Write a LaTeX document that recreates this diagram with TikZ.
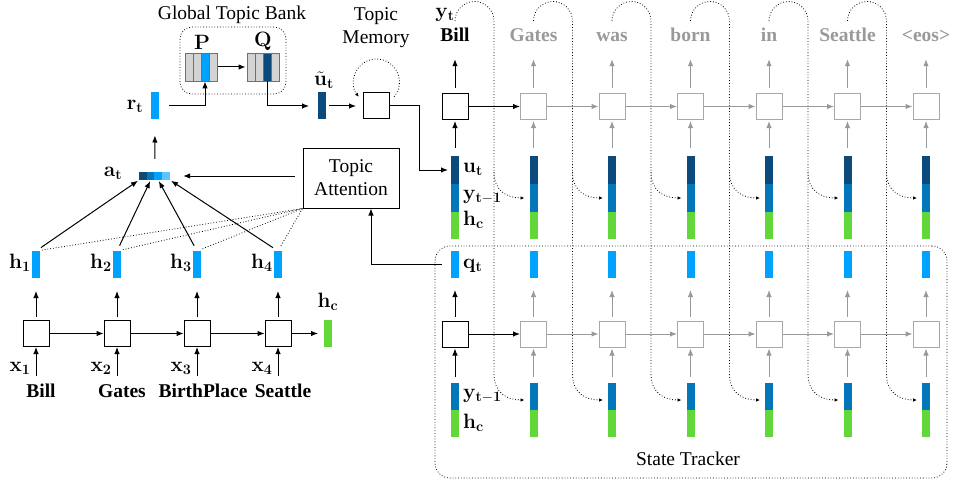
\documentclass[tikz,border=0pt]{standalone}
\usepackage[no-math]{fontspec}
\newfontfamily\tnr{Liberation Serif}
\usetikzlibrary{arrows.meta}
\definecolor{lb}{HTML}{00A2FF}
\definecolor{db}{HTML}{0B4A7A}
\definecolor{mb}{HTML}{0476BA}
\definecolor{gr}{HTML}{62D73A}
\definecolor{vlb}{HTML}{5FC4FF}
\definecolor{mg}{HTML}{D3D3D3}
\definecolor{mgl}{HTML}{707070}
\definecolor{gbc}{HTML}{A8A8A8}
\definecolor{gac}{HTML}{999999}
\definecolor{gwc}{HTML}{999999}
\begin{document}
\begin{tikzpicture}[x=1pt,y=-1pt,
  box/.style={draw=black,line width=1pt,minimum width=26pt,minimum height=26pt,inner sep=0pt,fill=white},
  gbox/.style={box,draw=gbc},
  bar/.style={inner sep=0pt,minimum width=8pt,minimum height=27pt,outer sep=0pt},
  ml/.style={inner sep=0pt,font=\fontsize{20.74}{24}\selectfont},
  txt/.style={inner sep=0pt,font=\fontsize{19.5}{23}\selectfont\tnr,align=center},
  word/.style={inner sep=0pt,font=\fontsize{19.5}{22}\selectfont\tnr\bfseries,text height=14pt,text depth=4pt},
  arr/.style={-{Latex[length=7pt,width=5.5pt]},line width=1pt},
  garr/.style={arr,draw=gac},
  dots/.style={dotted,line width=0.8pt},
  darr/.style={dots,-{Latex[length=4pt,width=3.5pt]}},
]
\useasboundingbox (0,0) rectangle (968,484);

% ---------- encoder ----------
\foreach \i/\x in {1/36,2/117,3/197,4/278}{
  \node[box] (e\i) at (\x,333.5) {};
  \node[bar,fill=lb] (h\i) at (\x,264.5) {};
  \node[ml] (hl\i) at (\x-16,263) {$\mathbf{h_{\i}}$};
  \node[ml] (xl\i) at (\x-16,368) {$\mathbf{x_{\i}}$};
  \coordinate (ein\i) at (\x,376);
  \draw[arr] (ein\i) -- (e\i.south);
  \draw[arr,shorten <=3pt,shorten >=13pt] (e\i.north) -- (h\i.south);
}
\node[bar,fill=gr] (hc) at (328,333.5) {};
\node[ml] (hcl) at (328,302) {$\mathbf{h_c}$};
\draw[arr] (e1) -- (e2);
\draw[arr] (e2) -- (e3);
\draw[arr] (e3) -- (e4);
\draw[arr,shorten >=6pt] (e4) -- (hc);
\node[word] (wb1) at (41,392) {Bill};
\node[word] (wb2) at (122,392) {Gates};
\node[word] (wb3) at (203,392) {BirthPlace};
\node[word] (wb4) at (283,392) {Seattle};

% ---------- attention ----------
\foreach \k/\c in {1/db,2/mb,3/lb,4/vlb}
  \node[inner sep=0pt,minimum width=7.75pt,minimum height=8pt,fill=\c] (a\k) at (135.1+7.75*\k,176) {};
\node[ml] (atl) at (113,173) {$\mathbf{a_t}$};
\draw[arr,shorten <=6pt,shorten >=1pt] (h1.north) -- (a1.south west);
\draw[arr,shorten <=6pt,shorten >=1pt] (h2.north) -- (a2.south);
\draw[arr,shorten <=6pt,shorten >=1pt] (h3.north) -- (a3.south);
\draw[arr,shorten <=6pt,shorten >=1pt] (h4.north) -- (a4.south east);

\node[draw,line width=1pt,minimum width=96pt,minimum height=60pt,txt] (ta) at (351,178) {Topic\\Attention};
\foreach \i in {1,...,4}
  \draw[dots,shorten <=6pt] (h\i.north) -- (ta.south west);
\draw[arr,shorten <=8pt,shorten >=13pt] ([yshift=2pt]ta.west) -- (a4.east);

\node[bar,fill=lb] (rt) at (155,106) {};
\node[ml] (rtl) at (135,106) {$\mathbf{r_t}$};
\draw[arr,shorten <=13pt,shorten >=16pt] (a2.north east) -- (rt.south);

% ---------- global topic bank ----------
\node[txt] (gtb) at (232,15) {Global Topic Bank};
\node[draw,dots,rounded corners=12pt,minimum width=106pt,minimum height=67pt,inner sep=0pt] (bank) at (233,60.5) {};
\foreach \k/\c in {1/mg,2/mg,3/lb,4/mg}
  \node[inner sep=0pt,minimum width=8pt,minimum height=28pt,draw=mgl,fill=\c,line width=0.8pt] (P\k) at (181+8*\k,67) {};
\foreach \k/\c in {1/mg,2/mg,3/db,4/mg}
  \node[inner sep=0pt,minimum width=8pt,minimum height=28pt,draw=mgl,fill=\c,line width=0.8pt] (Q\k) at (243+8*\k,67) {};
\node[ml] (Pl) at (202,42) {$\mathbf{P}$};
\node[ml] (Ql) at (263,41) {$\mathbf{Q}$};
\draw[arr,shorten <=1pt,shorten >=1pt] (P4.east) -- (Q1.west);
\draw[arr,shorten <=10pt] (rt.east) -| (P3.south);
\node[bar,fill=db] (ut) at (322,106) {};
\node[ml] (utl) at (324,80) {$\tilde{\mathbf{u}}_{\mathbf{t}}$};
\draw[arr,shorten >=9pt] (Q3.south) |- (ut.west);
\node[box] (mem) at (376.5,106) {};
\node[txt] (tml) at (376,28) {Topic\\Memory};
\draw[arr,shorten <=3pt,shorten >=7pt] (ut.east) -- (mem.west);
\coordinate (lc) at (376.5,82);
\draw[darr] ([shift={(40:23)}]lc) arc[start angle=40,end angle=-220,radius=23];

% ---------- decoder & state tracker ----------
\node[draw,dots,rounded corners=15pt,minimum width=512pt,minimum height=232pt,inner sep=0pt] (st) at (691,362) {};
\node[txt] (stl) at (688,459) {State Tracker};

\foreach \i/\w/\bs/\as/\tc [evaluate=\i as \x using 455+78.5*\i] in
  {0/Bill/box/arr/black,1/Gates/gbox/garr/gwc,2/was/gbox/garr/gwc,3/born/gbox/garr/gwc,
   4/in/gbox/garr/gwc,5/Seattle/gbox/garr/gwc,6/\textless eos\textgreater/gbox/garr/gwc}{
  \node[\bs] (d\i) at (\x,106.5) {};
  \node[word,text=\tc] (w\i) at (\x,37) {\w};
  \node[bar,fill=db,minimum height=28pt] (dU\i) at (\x,170) {};
  \node[bar,fill=mb,minimum height=28pt] (dY\i) at (\x,198) {};
  \node[bar,fill=gr] (dH\i) at (\x,225.5) {};
  \draw[\as,shorten <=8pt,shorten >=1pt] (dU\i.north) -- (d\i.south);
  \draw[\as,shorten <=5pt,shorten >=13pt] (d\i.north) -- (w\i.south);
  \node[\bs] (s\i) at (\x,334) {};
  \node[bar,fill=lb] (sQ\i) at (\x,264.5) {};
  \node[bar,fill=mb] (sY\i) at (\x,396.5) {};
  \node[bar,fill=gr] (sH\i) at (\x,423.5) {};
  \draw[\as,shorten <=4pt,shorten >=12pt] (s\i.north) -- (sQ\i.south);
  \draw[\as,shorten <=6pt,shorten >=1pt] (sY\i.north) -- (s\i.south);
}
\foreach \i/\j/\as in {0/1/arr,1/2/garr,2/3/garr,3/4/garr,4/5/garr,5/6/garr}{
  \draw[\as] (d\i) -- (d\j);
  \draw[\as] (s\i) -- (s\j);
}

\node[ml] (ytl) at (445,15) {$\mathbf{y_t}$};
\node[ml,anchor=west] (ul) at (463,169) {$\mathbf{u_t}$};
\node[ml,anchor=west] (yl1) at (463,197) {$\mathbf{y_{t-1}}$};
\node[ml,anchor=west] (hcl1) at (463,220) {$\mathbf{h_c}$};
\node[ml,anchor=west] (ql) at (463,266) {$\mathbf{q_t}$};
\node[ml,anchor=west] (yl2) at (463,396) {$\mathbf{y_{t-1}}$};
\node[ml,anchor=west] (hcl2) at (463,423) {$\mathbf{h_c}$};

\coordinate (mt) at (419,106);
\draw[arr,shorten >=3pt] (mem.east) -- (mt) |- (dU0.west);
\draw[arr,shorten <=9pt] (sQ0.west) -| ([xshift=20pt]ta.south);

% feedback dotted
\foreach \i/\j [evaluate=\i as \x using 455+78.5*\i, evaluate=\i as \v using 494+78.5*\i] in {0/1,1/2,2/3,3/4,4/5,5/6}{
  \coordinate (fa\i) at (\x,21);
  \coordinate (fv\i) at (\v,374);
  \coordinate (fb\i) at (\v,172);
  \draw[darr,shorten >=5pt] (fa\i) arc[start angle=180,end angle=360,radius=19.5] -- (fv\i)
     .. controls (\v,392) and (\v+12,400) .. ([yshift=-3.5pt]sY\j.west);
  \draw[darr,shorten >=5pt] (fb\i) .. controls (\v,190) and (\v+12,198) .. (dY\j.west);
}
\end{tikzpicture}
\end{document}
